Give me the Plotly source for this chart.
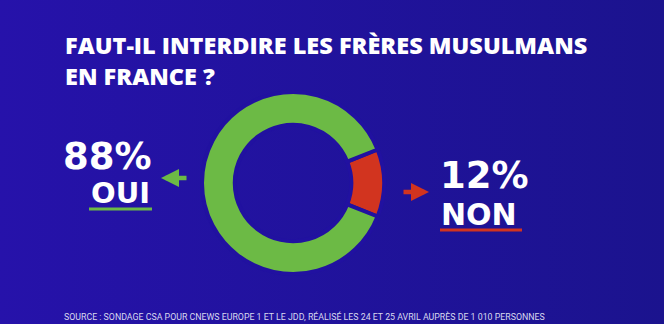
import plotly.graph_objects as go

# Poll results
labels = ["NON", "OUI"]
values = [12, 88]
slice_colors = ["#d2341f", "#6cba45"]

title_lines = ["FAUT-IL INTERDIRE LES FRÈRES MUSULMANS", "EN FRANCE ?"]
source_text = ("SOURCE : SONDAGE CSA POUR CNEWS EUROPE 1 ET LE JDD, "
               "RÉALISÉ LES 24 ET 25 AVRIL AUPRÈS DE 1 010 PERSONNES")

W, H = 664, 324
BG_LEFT, BG_RIGHT = "#2612aa", "#1b138e"
BIG_FONT = "DejaVu Sans"


def px(x):
    return x / W


def py(y):
    return 1 - y / H


fig = go.Figure()

# Full-canvas background with a horizontal gradient
fig.add_trace(go.Scatter(
    x=[0, 1, 1, 0, 0], y=[0, 0, 1, 1, 0],
    mode="lines", line=dict(width=0),
    fill="toself",
    fillgradient=dict(type="horizontal",
                      colorscale=[[0, BG_LEFT], [1, BG_RIGHT]]),
    hoverinfo="skip", showlegend=False,
))

# Donut
cx, cy, r = 293, 183, 91
fig.add_trace(go.Pie(
    labels=labels, values=values,
    marker=dict(colors=slice_colors, line=dict(color="#2111a0", width=4)),
    hole=0.64, sort=False, direction="clockwise",
    rotation=90 - values[0] * 3.6 / 2,
    textinfo="none", hoverinfo="skip", showlegend=False,
    domain=dict(x=[px(cx - r), px(cx + r)], y=[py(cy + r), py(cy - r)]),
))

ann = []
# Title
ann.append(dict(
    text="<br>".join(title_lines), x=px(63), y=py(27),
    xanchor="left", yanchor="top", align="left", showarrow=False,
    font=dict(family="Open Sans", size=23.5, color="white", weight=800),
))
# OUI block
ann.append(dict(text=f"{values[1]}%", x=px(154), y=py(157), xanchor="right",
                yanchor="middle", showarrow=False,
                font=dict(family=BIG_FONT, size=37, color="white", weight="bold")))
ann.append(dict(text=labels[1], x=px(152), y=py(193), xanchor="right",
                yanchor="middle", showarrow=False,
                font=dict(family=BIG_FONT, size=29, color="white", weight="bold")))
# NON block
ann.append(dict(text=f"{values[0]}%", x=px(438), y=py(175), xanchor="left",
                yanchor="middle", showarrow=False,
                font=dict(family=BIG_FONT, size=37, color="white", weight="bold")))
ann.append(dict(text=labels[0], x=px(439), y=py(214), xanchor="left",
                yanchor="middle", showarrow=False,
                font=dict(family=BIG_FONT, size=30, color="white", weight="bold")))
# Arrows
ann.append(dict(text="", x=px(161), y=py(178), ax=27, ay=0, showarrow=True,
                arrowhead=2, arrowsize=0.8, arrowwidth=4.5, arrowcolor=slice_colors[1],
                xref="paper", yref="paper"))
ann.append(dict(text="", x=px(429), y=py(192), ax=-27, ay=0, showarrow=True,
                arrowhead=2, arrowsize=0.8, arrowwidth=4.5, arrowcolor=slice_colors[0],
                xref="paper", yref="paper"))
# Source
ann.append(dict(text=source_text, x=px(62), y=py(316), xanchor="left",
                yanchor="middle", showarrow=False,
                font=dict(family="Roboto", size=8.8, color="#d8d8ee")))

for a in ann:
    a.setdefault("xref", "paper")
    a.setdefault("yref", "paper")

shapes = [
    dict(type="line", xref="paper", yref="paper", x0=px(89), x1=px(152),
         y0=py(209), y1=py(209), line=dict(color=slice_colors[1], width=3)),
    dict(type="line", xref="paper", yref="paper", x0=px(440), x1=px(522),
         y0=py(230), y1=py(230), line=dict(color=slice_colors[0], width=3)),
]

fig.update_layout(
    width=W, height=H,
    margin=dict(l=0, r=0, t=0, b=0),
    paper_bgcolor=BG_LEFT, plot_bgcolor=BG_LEFT,
    xaxis=dict(range=[0, 1], domain=[0, 1], visible=False, fixedrange=True),
    yaxis=dict(range=[0, 1], domain=[0, 1], visible=False, fixedrange=True),
    annotations=ann, shapes=shapes,
)

fig.write_html("out.html", config={"displayModeBar": False})
